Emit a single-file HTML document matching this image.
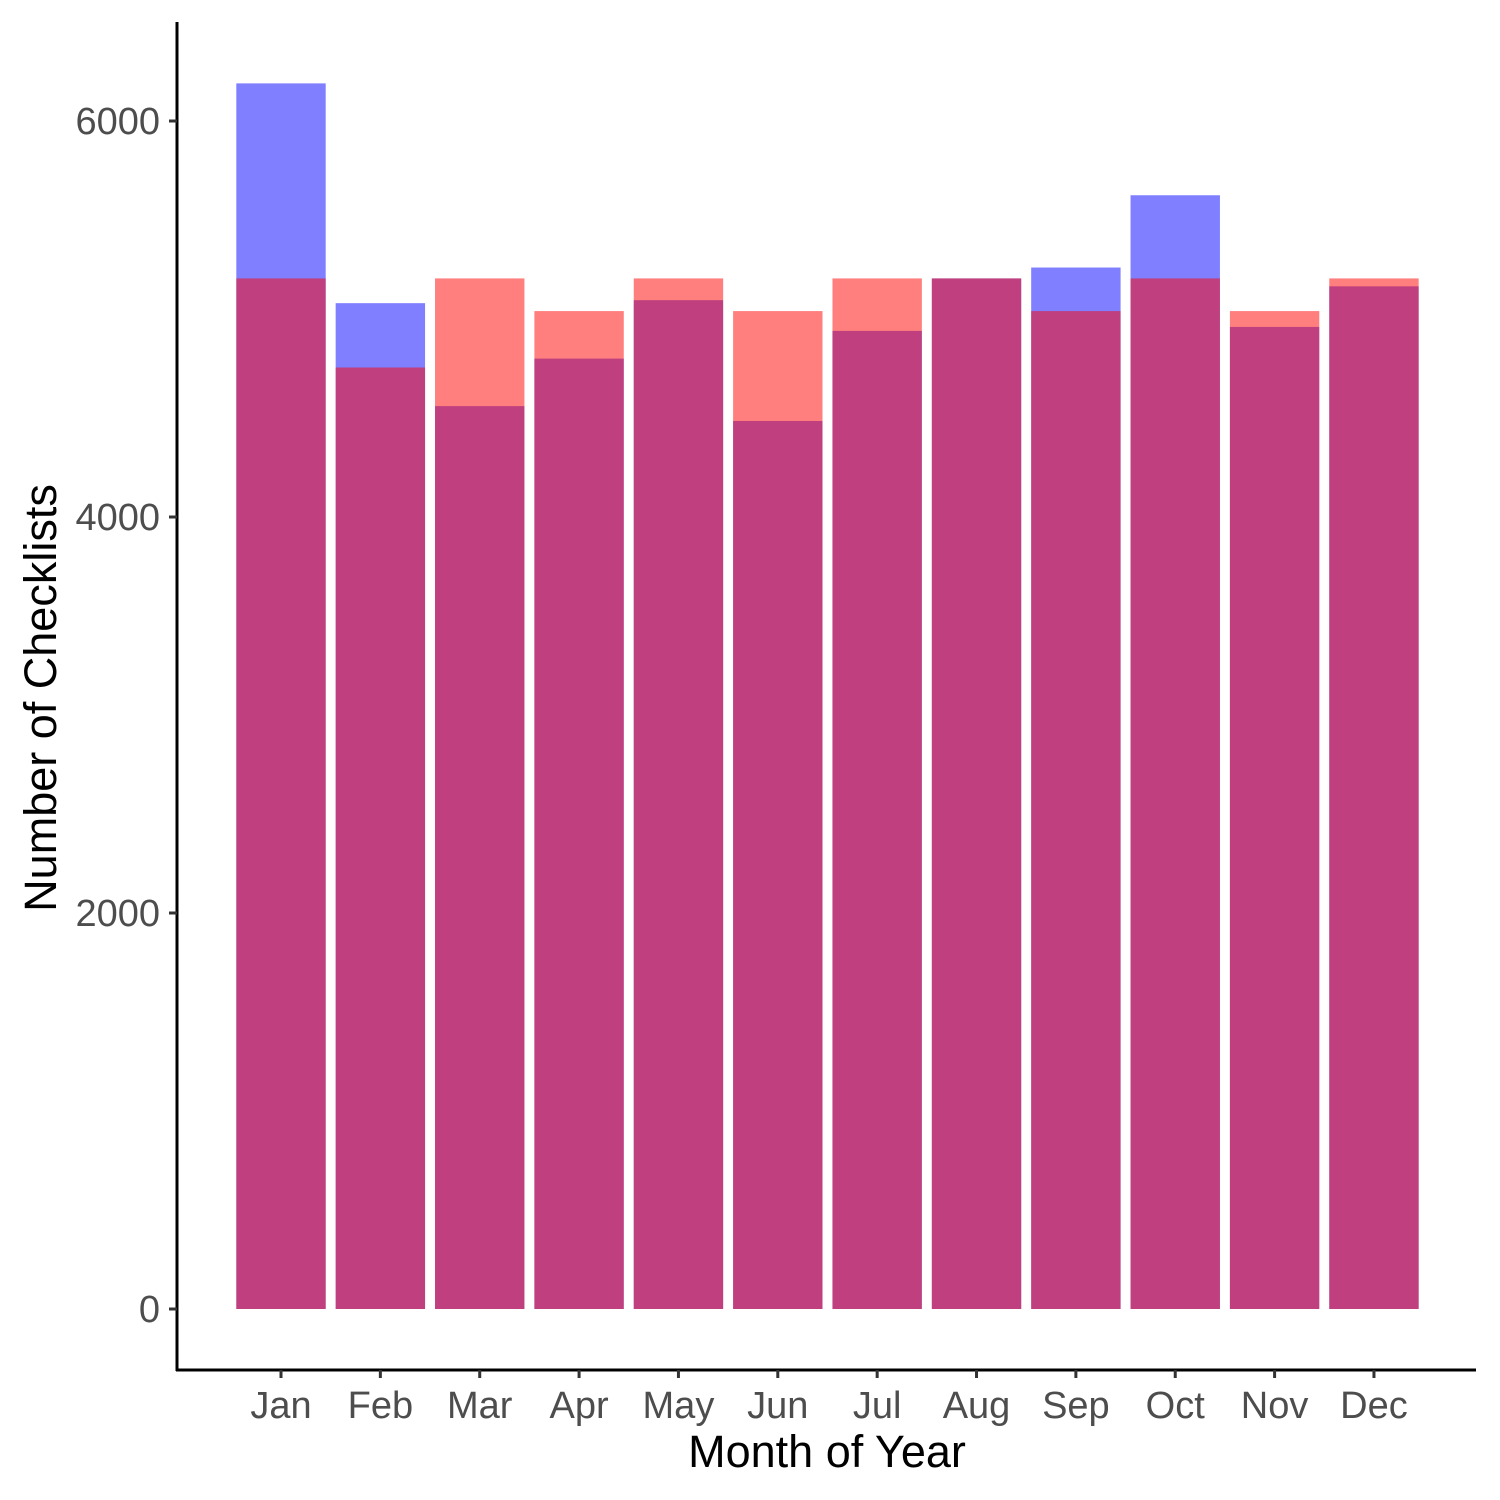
<!DOCTYPE html>
<html><head><meta charset="utf-8"><style>
html,body{margin:0;padding:0;background:#fff}
svg{display:block;font-family:"Liberation Sans",Arial,sans-serif}
</style></head><body>
<svg id="chart" width="1500" height="1500" viewBox="0 0 1500 1500">
<g id="bars"></g>
<g id="axes"></g>
<text x="827" y="1467" text-anchor="middle" font-size="45" fill="#000">Month of Year</text>
<text transform="translate(56,698) rotate(-90)" text-anchor="middle" font-size="45" fill="#000">Number of Checklists</text>
</svg>
<script>
const months = ["Jan","Feb","Mar","Apr","May","Jun","Jul","Aug","Sep","Oct","Nov","Dec"];
const blueValues = [6190,5080,4560,4800,5095,4485,4940,5205,5260,5625,4960,5165];
const redValues = [5205,4755,5205,5040,5205,5040,5205,5205,5040,5205,5040,5205];
const yTicks = [0,2000,4000,6000];

const NS="http://www.w3.org/2000/svg";
const y0=1309, pxPer=396/2000;
const yScale=v=>y0-v*pxPer;
const step=99.36, x0=281;
const xScale=i=>x0+i*step;
const bw=89.4;
const bars=document.getElementById('bars');
const axes=document.getElementById('axes');
function mk(tag,attrs,parent){const e=document.createElementNS(NS,tag);for(const k in attrs)e.setAttribute(k,attrs[k]);parent.appendChild(e);return e;}
function drawSeries(vals,color,name){
  vals.forEach((v,i)=>{
    const r=mk('rect',{x:xScale(i)-bw/2,y:yScale(v),width:bw,height:yScale(0)-yScale(v),fill:color,'fill-opacity':0.5},bars);
    
    
  });
}
drawSeries(blueValues,'#0000FF','blue');
drawSeries(redValues,'#FF0000','red');
let l=mk('line',{x1:177,y1:22,x2:177,y2:1371,stroke:'#000','stroke-width':3},axes);


l=mk('line',{x1:176,y1:1370,x2:1476,y2:1370,stroke:'#000','stroke-width':3},axes);


yTicks.forEach(t=>{
  const y=yScale(t);
  const tk=mk('line',{x1:169,y1:y,x2:177,y2:y,stroke:'#333','stroke-width':3},axes);
  
  
  const tx=mk('text',{x:160,y:y+13,'text-anchor':'end','font-size':38,fill:'#4d4d4d'},axes);
  tx.textContent=t;
  
  
});
months.forEach((m,i)=>{
  const x=xScale(i);
  const tk=mk('line',{x1:x,y1:1370,x2:x,y2:1378,stroke:'#333','stroke-width':3},axes);
  
  
  const tx=mk('text',{x:x,y:1418,'text-anchor':'middle','font-size':38,fill:'#4d4d4d'},axes);
  tx.textContent=m;
  
  
});
</script>
</body></html>
